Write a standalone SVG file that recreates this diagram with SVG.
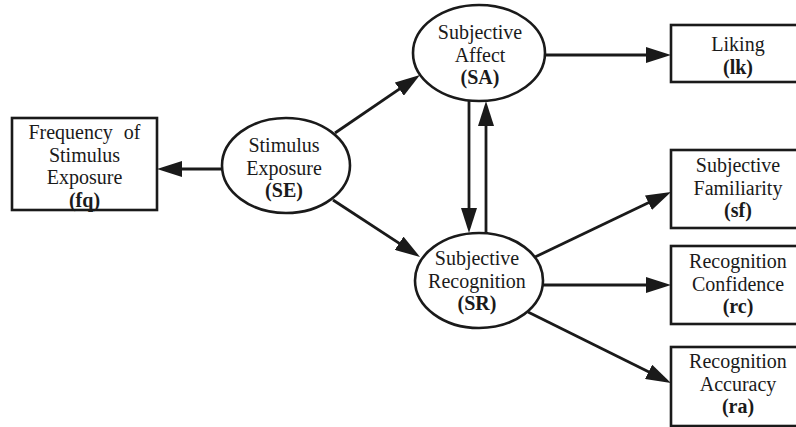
<svg xmlns="http://www.w3.org/2000/svg" width="796" height="427" viewBox="0 0 796 427">
<style>
  .node ellipse, .node rect { fill: #fff; stroke: #1a1a1a; stroke-width: 2.6; }
  text { font-family: "Liberation Serif", "Times New Roman", serif; font-size: 20px; fill: #1a1a1a; text-anchor: middle; }
  .b { font-weight: bold; }
  .conn line { stroke: #1a1a1a; stroke-width: 2.8; marker-end: url(#arr); }
</style>
<defs>
  <marker id="arr" markerUnits="userSpaceOnUse" markerWidth="26" markerHeight="16" refX="19" refY="8" orient="auto">
    <path d="M0,0 L25,8 L0,16 z" fill="#1a1a1a"/>
  </marker>
</defs>
<rect width="796" height="427" fill="#fff"/>
<g class="conn">
  <line x1="222" y1="169" x2="163" y2="169"/>
  <line x1="335" y1="133" x2="415" y2="78.4"/>
  <line x1="333" y1="200" x2="415" y2="253.7"/>
  <line x1="469" y1="101" x2="469" y2="227"/>
  <line x1="486" y1="233" x2="486" y2="107"/>
  <line x1="545" y1="55" x2="665" y2="55"/>
  <line x1="535" y1="257" x2="665.6" y2="194.6"/>
  <line x1="543" y1="285" x2="665" y2="285"/>
  <line x1="528" y1="312" x2="665.6" y2="380.3"/>
</g>
<g id="fq" class="node">
  <rect x="12" y="118" width="145" height="92"/>
  <text x="84.5" y="139" word-spacing="6">Frequency of</text>
  <text x="84.5" y="161.5">Stimulus</text>
  <text x="84.5" y="184">Exposure</text>
  <text x="84.5" y="206.5" class="b">(fq)</text>
</g>
<g id="SE" class="node">
  <ellipse cx="286" cy="165.5" rx="64" ry="47.5"/>
  <text x="284" y="152">Stimulus</text>
  <text x="284" y="174.5">Exposure</text>
  <text x="284" y="197" class="b">(SE)</text>
</g>
<g id="SA" class="node">
  <ellipse cx="479" cy="53" rx="66" ry="48"/>
  <text x="480" y="39">Subjective</text>
  <text x="480" y="61.5">Affect</text>
  <text x="480" y="84" class="b">(SA)</text>
</g>
<g id="SR" class="node">
  <ellipse cx="479" cy="280.5" rx="64" ry="47.5"/>
  <text x="477" y="265">Subjective</text>
  <text x="477" y="287.5">Recognition</text>
  <text x="477" y="310" class="b">(SR)</text>
</g>
<g id="lk" class="node">
  <rect x="671" y="25" width="140" height="57"/>
  <text x="738" y="51">Liking</text>
  <text x="738" y="73.5" class="b">(lk)</text>
</g>
<g id="sf" class="node">
  <rect x="671" y="150" width="140" height="78"/>
  <text x="738" y="172">Subjective</text>
  <text x="738" y="194.5">Familiarity</text>
  <text x="738" y="217" class="b">(sf)</text>
</g>
<g id="rc" class="node">
  <rect x="671" y="246" width="140" height="78"/>
  <text x="738" y="268">Recognition</text>
  <text x="738" y="290.5">Confidence</text>
  <text x="738" y="313" class="b">(rc)</text>
</g>
<g id="ra" class="node">
  <rect x="671" y="347" width="140" height="79"/>
  <text x="738" y="368">Recognition</text>
  <text x="738" y="390.5">Accuracy</text>
  <text x="738" y="413" class="b">(ra)</text>
</g>
</svg>
